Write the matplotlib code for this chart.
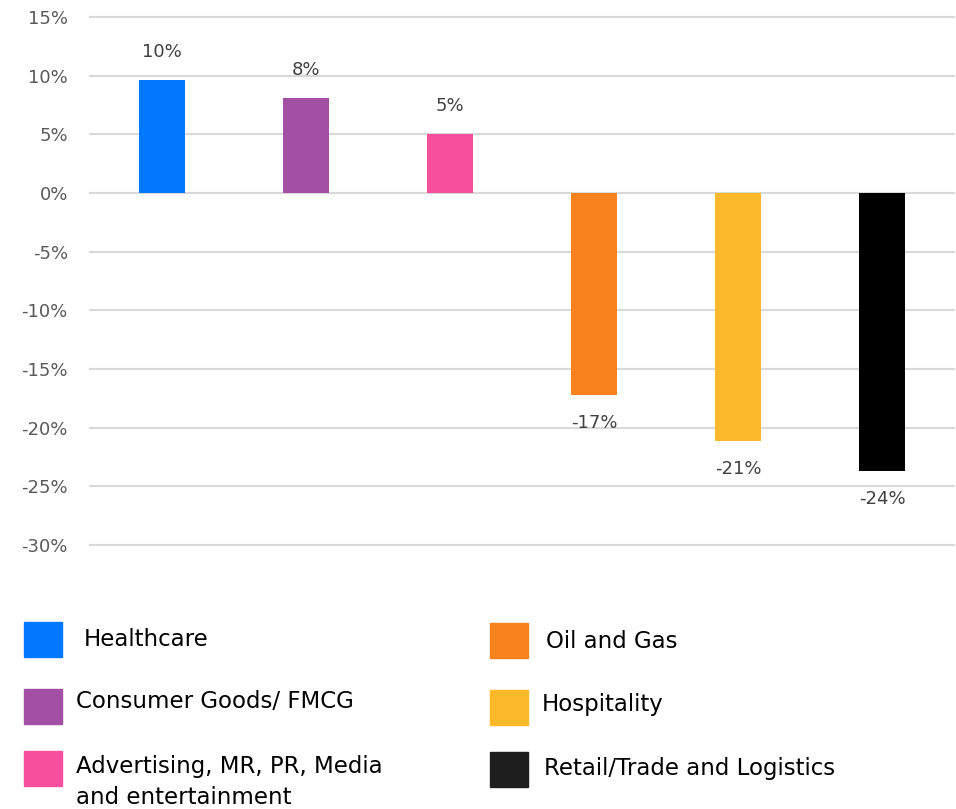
import matplotlib
matplotlib.use("Agg")
import matplotlib.pyplot as plt
from matplotlib.patches import Rectangle

categories = ["Healthcare", "Consumer Goods/ FMCG", "Advertising, MR, PR, Media\nand entertainment",
              "Oil and Gas", "Hospitality", "Retail/Trade and Logistics"]
values = [9.6, 8.1, 5.0, -17.2, -21.1, -23.7]
colors = ["#0078ff", "#a34fa5", "#f74f9e", "#f7821e", "#fbb829", "#000000"]
legend_colors = ["#0078ff", "#a34fa5", "#f74f9e", "#f7821e", "#fbb829", "#1e1e1e"]
yticks = [15, 10, 5, 0, -5, -10, -15, -20, -25, -30]

W, H = 956, 809
fig = plt.figure(figsize=(W / 100, H / 100), dpi=100)
ax = fig.add_axes([90 / W, 1 - 545 / H, 864 / W, 528 / H])

x = list(range(len(values)))
ax.bar(x, values, width=0.32, color=colors, zorder=3)
ax.set_xlim(-0.5, 5.5)
ax.set_ylim(-30, 15)
ax.set_yticks(yticks)
ax.set_yticklabels([f"{t}%" for t in yticks], color="#595959", fontsize=13)
ax.set_xticks([])
ax.tick_params(axis="y", length=0, pad=16)
ax.grid(axis="y", color="#d9d9d9", linewidth=1.5, zorder=0)
for gl in ax.get_ygridlines():
    gl.set_clip_on(False)
for s in ax.spines.values():
    s.set_visible(False)

for xi, v in zip(x, values):
    off = 2.4 if v >= 0 else -2.4
    ax.text(xi, v + off, f"{round(v):.0f}%", ha="center", va="center",
            color="#404040", fontsize=13)

# legend (manual, figure pixel layout)
leg_pos = [(24, 622), (24, 689), (24, 751), (490, 623), (490, 690), (490, 752)]
txt_pos = [(84, 639), (76, 702), (76, 766), (546, 641), (542, 705), (544, 769)]
for i, (cat, col) in enumerate(zip(categories, legend_colors)):
    sx, sy = leg_pos[i]
    fig.patches.append(Rectangle((sx / W, 1 - (sy + 35) / H), 38 / W, 35 / H,
                                 transform=fig.transFigure, color=col))
    tx, ty = txt_pos[i]
    lines = cat.split("\n")
    for j, ln in enumerate(lines):
        fig.text(tx / W, 1 - (ty + j * 31) / H, ln, ha="left", va="center",
                 fontsize=16.5, color="#000000")

fig.savefig("out.png", dpi=100)
